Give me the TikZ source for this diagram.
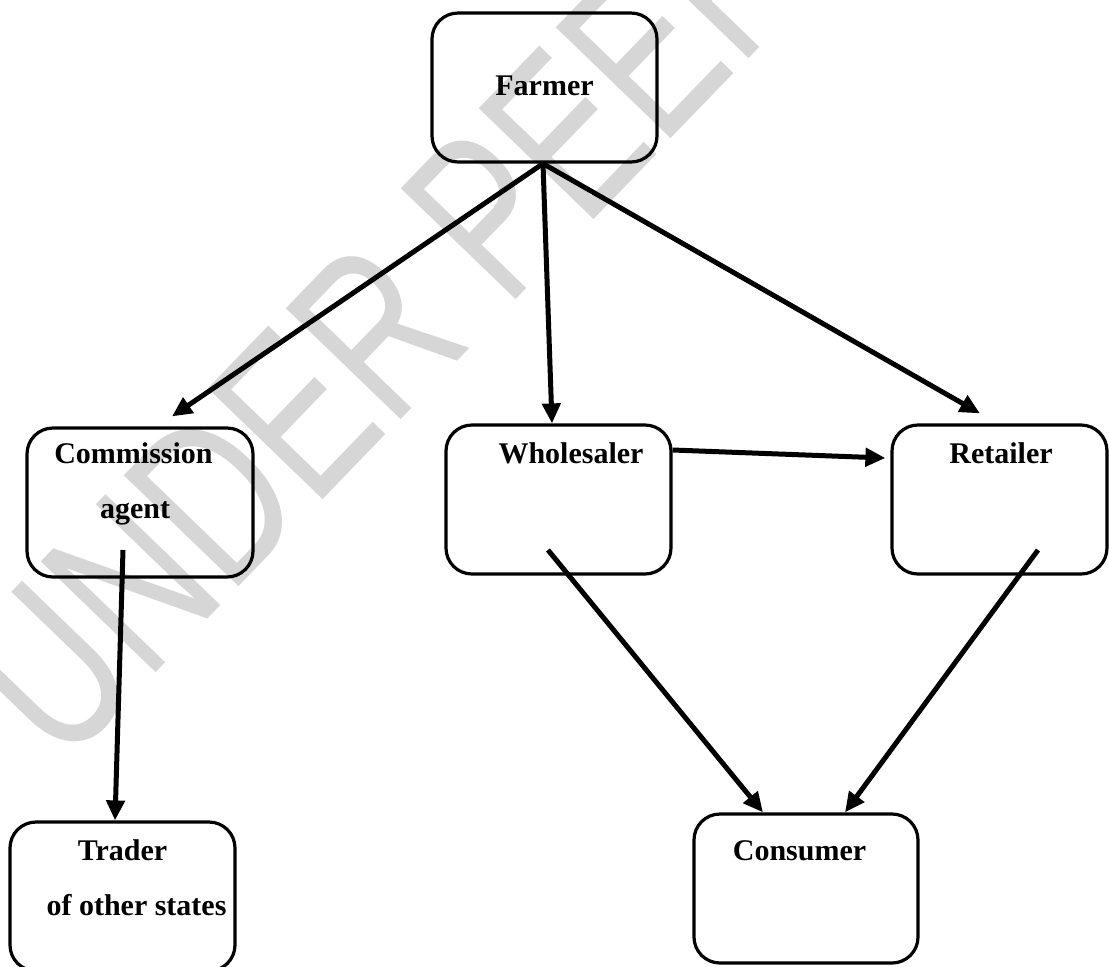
\documentclass[tikz,border=0pt]{standalone}
\usepackage{fontspec}
\setmainfont{Liberation Serif}
\newfontfamily\wmfont{Liberation Sans}
\usetikzlibrary{arrows.meta}
\tikzset{
  box/.style={draw, line width=1.6pt, rounded corners=13pt, minimum width=#1, minimum height=74.5pt, inner sep=0pt},
  box/.default=112.5pt,
  lbl/.style={anchor=base, inner sep=0pt, font=\fontsize{15}{18}\selectfont\bfseries},
  conn/.style={line width=2.5pt, -{Triangle[length=10pt,width=9pt]}},
  wm/.style={rotate=46, anchor=base west, inner sep=0pt, text=gray!32, font=\wmfont\fontsize{116}{116}\selectfont}
}
\begin{document}
\begin{tikzpicture}[x=0.5pt,y=-0.5pt]
\useasboundingbox (0,0) rectangle (1109,966);
\fill[white] (0,0) rectangle (1109,966);
% watermark
\node[wm] (wmark) at (62,770) {\scalebox{0.72}[1]{UNDER PEER REVIEW}};
% boxes
\node[box] (farmer) at (544.5,87.5) {};
\node[box=113pt] (comm) at (140,502.5) {};
\node[box] (whole) at (558.5,499.5) {};
\node[box=107.5pt] (retail) at (999.5,499.5) {};
\node[box] (trader) at (122.5,896.5) {};
\node[box=112pt] (consumer) at (806,888.5) {};
% labels
\node[lbl] (tFarmer) at (544.5,95) {Farmer};
\node[lbl] (tComm) at (133.5,463) {Commission};
\node[lbl] (tAgent) at (135,518) {agent};
\node[lbl] (tWhole) at (571,463) {Wholesaler};
\node[lbl] (tRetail) at (1001,463) {Retailer};
\node[lbl] (tTrader) at (122.5,860) {Trader};
\node[lbl] (tOther) at (136.5,915) {of other states};
\node[lbl] (tConsumer) at (799.5,860) {Consumer};
% connectors
\draw[conn] ([shift={(-1.5,0)}]farmer.south) -- ([shift={(32,-10)}]comm.north);
\draw[conn] ([shift={(-1.5,0)}]farmer.south) -- ([shift={(-6.5,0)}]whole.north);
\draw[conn] ([shift={(-1.5,0)}]farmer.south) -- ([shift={(-19.5,-10)}]retail.north);
\draw[conn] ([shift={(0,-49.5)}]whole.east) -- ([shift={(-5,-41.5)}]retail.west);
\draw[conn] ([shift={(-17,47.5)}]comm.center) -- ([shift={(-7.5,0)}]trader.north);
\draw[conn] ([shift={(-10.5,50.5)}]whole.center) -- ([shift={(-43,0)}]consumer.north);
\draw[conn] ([shift={(38.5,50.5)}]retail.center) -- ([shift={(39,0)}]consumer.north);
\end{tikzpicture}
\end{document}
